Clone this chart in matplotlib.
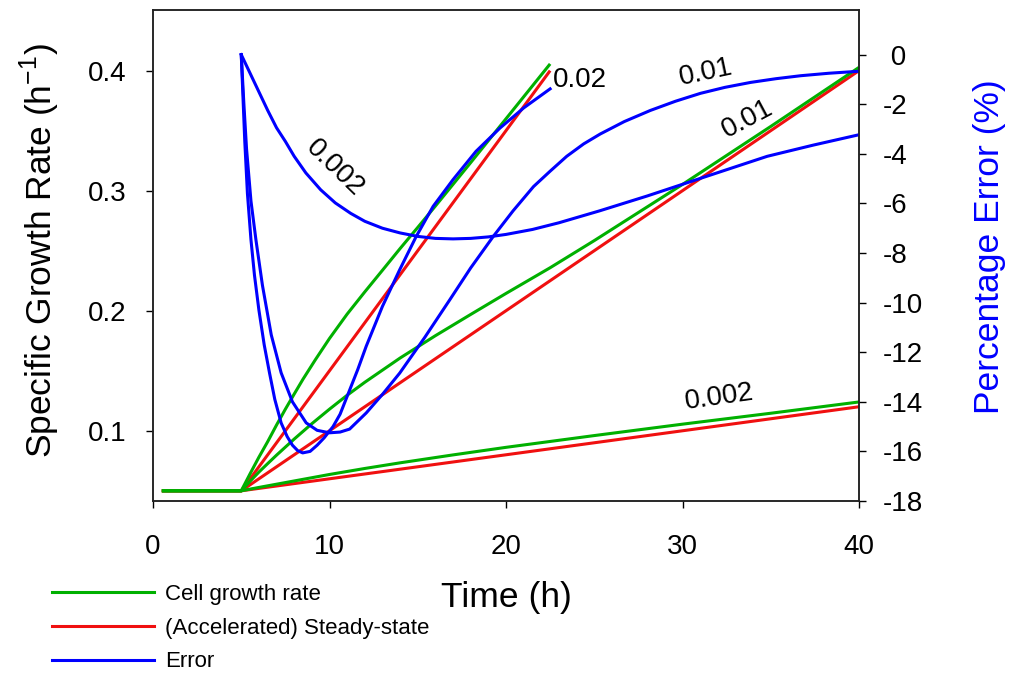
import matplotlib
matplotlib.use('Agg')
import matplotlib.pyplot as plt
from matplotlib.lines import Line2D

plt.rcParams['font.family'] = ['Liberation Sans', 'DejaVu Sans']
plt.rcParams['axes.unicode_minus'] = False
plt.rcParams['mathtext.fontset'] = 'custom'
plt.rcParams['mathtext.rm'] = 'Liberation Sans'

# ---------------- data ----------------
# (Accelerated) steady-state growth rate (red) - piecewise linear
t_ss_002 = [0.5, 5, 40]
mu_ss_002 = [0.05, 0.05, 0.12]
t_ss_01 = [0.5, 5, 40]
mu_ss_01 = [0.05, 0.05, 0.40]
t_ss_02 = [0.5, 5, 22.5]
mu_ss_02 = [0.05, 0.05, 0.40]

# Cell growth rate (green)
t_cg_002 = [0.5, 5, 6, 7, 8, 10, 12, 14, 17, 20, 25, 30, 35, 40]
mu_cg_002 = [0.05, 0.05, 0.0528, 0.0555, 0.0582, 0.0636, 0.0686, 0.0733,
             0.0799, 0.0862, 0.0960, 0.1055, 0.1146, 0.1240]
t_cg_01 = [0.5, 5, 5.5, 6, 6.5, 7, 8, 9, 10, 11, 12, 14, 16, 18, 20, 22.5,
           25, 30, 35, 40]
mu_cg_01 = [0.05, 0.05, 0.0579, 0.0656, 0.0727, 0.0797, 0.0931, 0.1059,
            0.118, 0.1296, 0.1404, 0.1606, 0.1792, 0.1969, 0.2144, 0.2358,
            0.2584, 0.3052, 0.3535, 0.4027]
t_cg_02 = [0.5, 5, 5.5, 6, 6.5, 7, 7.5, 8, 8.5, 9.2, 10, 11, 12, 13, 14, 15,
           16, 18, 20, 22.5]
mu_cg_02 = [0.05, 0.05, 0.0642, 0.078, 0.091, 0.1048, 0.118, 0.1306, 0.143,
            0.1592, 0.1769, 0.1972, 0.2157, 0.2337, 0.2518, 0.2694, 0.2872,
            0.3234, 0.3599, 0.4056]

# Percentage error (blue)
t_err_002 = [5, 5.5, 6, 6.5, 7, 7.5, 8, 8.66, 9.5, 10.33, 11.2, 12, 13, 14,
             15, 16, 17, 18, 19, 20, 21.5, 23, 25.3, 28, 30.8, 32.8, 34.8,
             37.4, 40]
err_002 = [0, -0.75, -1.5, -2.25, -2.95, -3.5, -4.1, -4.77, -5.45, -5.98,
           -6.4, -6.72, -7.0, -7.19, -7.33, -7.41, -7.43, -7.41, -7.35, -7.25,
           -7.05, -6.78, -6.3, -5.7, -5.04, -4.57, -4.1, -3.65, -3.23]
t_err_01 = [5, 5.15, 5.3, 5.55, 5.83, 6.2, 6.7, 7.26, 7.9, 8.68, 9.3, 10.0,
            10.6, 11.14, 12.08, 13.0, 13.98, 15.4, 16.82, 18.0, 19.28, 20.4,
            21.56, 22.5, 23.44, 24.4, 25.34, 26.7, 28.18, 29.6, 31.02, 32.4,
            33.86, 35.3, 36.7, 38.3, 40]
err_01 = [0, -2.0, -3.8, -5.9, -7.46, -9.3, -11.3, -12.83, -14.0, -14.85,
          -15.15, -15.25, -15.22, -15.1, -14.45, -13.7, -12.84, -11.4, -9.88,
          -8.6, -7.33, -6.3, -5.32, -4.7, -4.1, -3.6, -3.2, -2.7, -2.25,
          -1.88, -1.56, -1.32, -1.12, -0.97, -0.85, -0.75, -0.67]
t_err_02 = [5, 5.2, 5.35, 5.55, 5.75, 6.0, 6.3, 6.6, 6.9, 7.26, 7.6, 7.9, 8.2,
            8.48, 8.9, 9.3, 9.7, 10.2, 10.6, 11.1, 11.6, 12.08, 13.0, 13.98,
            14.9, 15.87, 17.0, 18.3, 19.66, 21.0, 22.5]
err_02 = [0, -3.5, -5.6, -7.46, -8.9, -10.3, -11.7, -12.83, -13.9, -14.85,
          -15.4, -15.75, -15.97, -16.06, -16.0, -15.75, -15.45, -15.0, -14.5,
          -13.6, -12.7, -11.76, -10.15, -8.67, -7.35, -6.12, -5.04, -3.9,
          -2.96, -2.15, -1.38]

x_ticks = [0, 10, 20, 30, 40]
mu_ticks = [0.1, 0.2, 0.3, 0.4]
err_ticks = [0, -2, -4, -6, -8, -10, -12, -14, -16, -18]
err_ticklabels = [' 0', '-2', '-4', '-6', '-8', '-10', '-12', '-14', '-16', '-18']

legend_labels = ['Cell growth rate', '(Accelerated) Steady-state', 'Error']

# ---------------- style ----------------
GREEN = '#00b000'
RED = '#f01010'
BLUE = '#0000ff'
LW = 2.2

fig = plt.figure(figsize=(10.09, 6.77), dpi=100)
ax = fig.add_axes([153 / 1009, 1 - 501 / 677, 706 / 1009, 491 / 677])

for t, m in [(t_ss_002, mu_ss_002), (t_ss_01, mu_ss_01), (t_ss_02, mu_ss_02)]:
    ax.plot(t, m, color=RED, lw=LW, solid_capstyle='butt')
for t, m in [(t_cg_002, mu_cg_002), (t_cg_01, mu_cg_01), (t_cg_02, mu_cg_02)]:
    ax.plot(t, m, color=GREEN, lw=LW, solid_capstyle='butt', solid_joinstyle='round')

ax.set_xlim(0, 40)
ax.set_ylim(0.0415, 0.4505)
ax.set_xticks(x_ticks)
ax.set_yticks(mu_ticks)
ax.set_xticklabels([str(v) for v in x_ticks])
ax.set_yticklabels([f'{v:.1f}' for v in mu_ticks])
ax.tick_params(axis='both', direction='out', length=5, width=1, labelsize=20)
ax.tick_params(axis='x', pad=19)
ax.tick_params(axis='y', pad=14)

ax2 = ax.twinx()
for t, e in [(t_err_002, err_002), (t_err_01, err_01), (t_err_02, err_02)]:
    ax2.plot(t, e, color=BLUE, lw=LW, solid_joinstyle='round')
ax2.set_ylim(-18, 1.8)
ax2.set_yticks(err_ticks)
ax2.set_yticklabels(err_ticklabels)
ax2.tick_params(axis='y', direction='out', length=5, width=1, labelsize=20, pad=12)

for a in (ax, ax2):
    for s in a.spines.values():
        s.set_linewidth(1.1)
        s.set_color('#222222')

# curve labels
ax.text(10.3, 0.319, '0.002', fontsize=20, rotation=-44, ha='center', va='center')
ax.text(24.2, 0.392, '0.02', fontsize=20, ha='center', va='center')
ax.text(31.3, 0.398, '0.01', fontsize=20, rotation=12, ha='center', va='center')
ax.text(33.7, 0.360, '0.01', fontsize=20, rotation=28, ha='center', va='center')
ax.text(32.1, 0.128, '0.002', fontsize=20, rotation=8, ha='center', va='center')

# axis labels
fig.text(506 / 1009, 1 - 597 / 677, 'Time (h)', fontsize=25.5, ha='center', va='center')
fig.text(40 / 1009, 1 - 251 / 677, r'Specific Growth Rate (h$^{\mathregular{-1}}$)',
         fontsize=25.5, rotation=90, ha='center', va='center')
fig.text(990 / 1009, 1 - 247 / 677, 'Percentage Error (%)', fontsize=25.5,
         rotation=90, ha='center', va='center', color=BLUE)

# legend
handles = [Line2D([], [], color=c, lw=LW) for c in (GREEN, RED, BLUE)]
fig.legend(handles, legend_labels, loc='upper left',
           bbox_to_anchor=(52 / 1009, 1 - 584 / 677), frameon=False,
           fontsize=16, handlelength=4.6, handletextpad=0.5, borderpad=0,
           borderaxespad=0, labelspacing=0.57)

fig.savefig('out.png', dpi=100)
